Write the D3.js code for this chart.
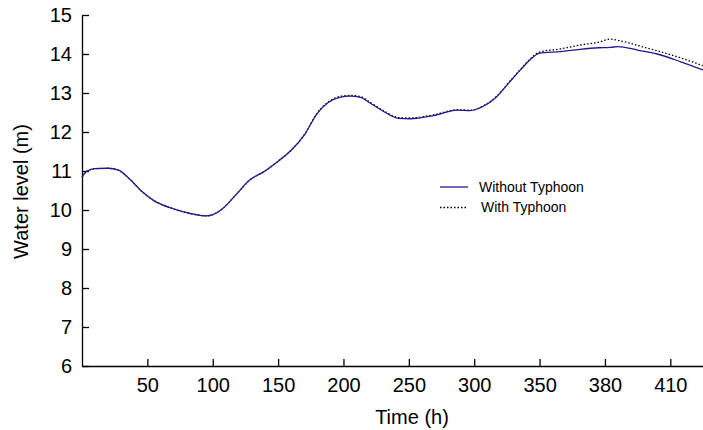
<!DOCTYPE html>
<html>
<head>
<meta charset="utf-8">
<script src="https://cdn.jsdelivr.net/npm/d3@7"></script>
<style>
    body { margin: 0; background: #fff; }
    svg { display: block; font-family: "Liberation Sans", Arial, Helvetica, sans-serif; }
</style>
</head>
<body>
<div id="chart"></div>
<script>
// time steps (position along the axis, h)
const timeSteps = [0, 4, 10, 20, 28, 35, 45, 55, 70, 83, 95, 100, 107, 118, 128, 140, 150, 160, 170, 180,
    188, 197, 205, 213, 220, 231, 242, 251, 269, 287, 297, 307, 317, 327, 335, 343, 350, 366, 381, 395,
    404, 410, 425, 440, 458, 475];

const withoutTyphoon = [10.85, 11.0, 11.06, 11.07, 11.02, 10.84, 10.5, 10.24, 10.03, 9.91, 9.85, 9.88, 10.02, 10.4, 10.76, 11.0, 11.25, 11.53, 11.92, 12.48,
    12.75, 12.89, 12.92, 12.89, 12.75, 12.52, 12.35, 12.34, 12.42, 12.56, 12.55, 12.66, 12.9, 13.28, 13.58, 13.86, 14.02, 14.06, 14.12, 14.16,
    14.17, 14.19, 14.1, 14.0, 13.8, 13.59];

const withTyphoon = [10.85, 11.0, 11.06, 11.07, 11.02, 10.84, 10.5, 10.24, 10.03, 9.91, 9.85, 9.88, 10.02, 10.4, 10.76, 11.0, 11.25, 11.53, 11.93, 12.49,
    12.76, 12.91, 12.94, 12.91, 12.77, 12.54, 12.37, 12.36, 12.44, 12.57, 12.56, 12.67, 12.91, 13.29, 13.59, 13.88, 14.05, 14.13, 14.23, 14.3,
    14.38, 14.35, 14.22, 14.08, 13.9, 13.7];

const xTickValues = [50, 100, 150, 200, 250, 300, 350, 400, 450];
const xTickLabels = ["50", "100", "150", "200", "250", "300", "350", "380", "410"];
const yTickValues = [6, 7, 8, 9, 10, 11, 12, 13, 14, 15];

const seriesNames = ["Without Typhoon", "With Typhoon"];

const size = { width: 703, height: 430 };
const margin = { top: 15, right: 0, bottom: 64, left: 82 };
const width = size.width - margin.left - margin.right;
const height = size.height - margin.top - margin.bottom;

const svg = d3.select("#chart").append("svg")
    .attr("width", size.width)
    .attr("height", size.height);

const g = svg.append("g")
    .attr("transform", "translate(" + margin.left + "," + margin.top + ")");

const xScale = d3.scaleLinear().domain([0, 475]).range([0, width]);
const yScale = d3.scaleLinear().domain([6, 15]).range([height, 0]);

// axes, ticks pointing inward
const xAxisG = g.append("g")
    .attr("class", "xAxisG")
    .attr("transform", "translate(0," + height + ")")
    .call(d3.axisBottom(xScale)
        .tickValues(xTickValues)
        .tickFormat((d, i) => xTickLabels[i])
        .tickSizeInner(-7)
        .tickSizeOuter(0)
        .tickPadding(12));

const yAxisG = g.append("g")
    .attr("class", "yAxisG")
    .call(d3.axisLeft(yScale)
        .tickValues(yTickValues)
        .tickFormat(d3.format("d"))
        .tickSizeInner(-7)
        .tickSizeOuter(0)
        .tickPadding(10));

g.selectAll(".xAxisG, .yAxisG").selectAll("path, line")
    .attr("stroke", "#000")
    .attr("stroke-width", 1.3);

g.selectAll(".xAxisG text, .yAxisG text")
    .attr("fill", "#000")
    .style("font-size", "20px")
    .style("font-family", "'Liberation Sans', Arial, sans-serif");

svg.append("text")
    .attr("x", 412)
    .attr("y", 424)
    .attr("text-anchor", "middle")
    .style("font-size", "20px")
    .text("Time (h)");

svg.append("text")
    .attr("transform", "translate(28," + (margin.top + height / 2 + 1) + ") rotate(-90)")
    .attr("text-anchor", "middle")
    .style("font-size", "20px")
    .text("Water level (m)");

// lines
const line = d3.line()
    .x((d, i) => xScale(timeSteps[i]))
    .y(d => yScale(d))
    .curve(d3.curveMonotoneX);

g.append("path")
    .datum(withTyphoon)
    .attr("fill", "none")
    .attr("stroke", "#000")
    .attr("stroke-width", 1.3)
    .attr("stroke-dasharray", "1.5,2")
    .attr("d", line);

g.append("path")
    .datum(withoutTyphoon)
    .attr("fill", "none")
    .attr("stroke", "#1c1c8c")
    .attr("stroke-width", 1.3)
    .attr("d", line);

// legend
const legend = svg.append("g")
    .attr("transform", "translate(440,187)");

const legendStyles = [
    { stroke: "#1c1c8c", dash: null },
    { stroke: "#000", dash: "1.5,2" }
];

seriesNames.forEach((name, i) => {
    const row = legend.append("g")
        .attr("transform", "translate(0," + (i * 20.5) + ")");
    row.append("line")
        .attr("x1", 0)
        .attr("x2", 28)
        .attr("stroke", legendStyles[i].stroke)
        .attr("stroke-width", 1.3)
        .attr("stroke-dasharray", legendStyles[i].dash);
    row.append("text")
        .attr("x", 39 + i * 2)
        .attr("dy", "0.35em")
        .style("font-size", "14px")
        .text(name);
});
</script>
</body>
</html>
